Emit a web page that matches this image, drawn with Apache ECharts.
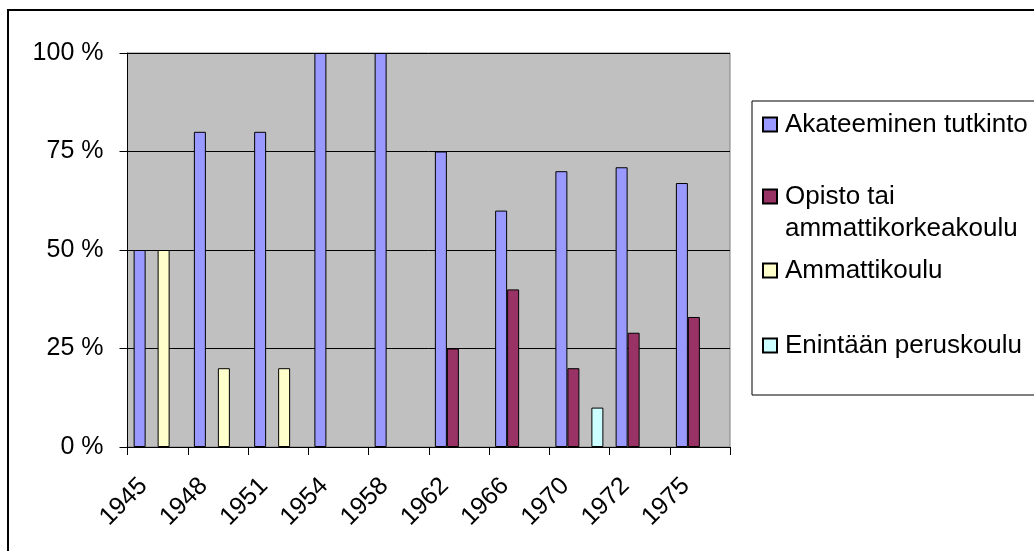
<!DOCTYPE html>
<html>
<head>
<meta charset="utf-8">
<script src="https://cdn.jsdelivr.net/npm/echarts@6/dist/echarts.min.js"></script>
<style>
html,body{margin:0;padding:0;background:#fff;}
#c{width:1034px;height:551px;}
</style>
</head>
<body>
<div id="c"></div>
<script>
// ---- data ----
const categories = ['1945', '1948', '1951', '1954', '1958', '1962', '1966', '1970', '1972', '1975'];
const seriesNames = ['Akateeminen tutkinto', 'Opisto tai ammattikorkeakoulu', 'Ammattikoulu', 'Enintään peruskoulu'];
const akateeminen = [50, 80, 80, 100, 100, 75, 60, 70, 71, 67];
const opisto = [null, null, null, null, null, 25, 40, 20, 29, 33];
const ammattikoulu = [50, 20, 20, null, null, null, null, null, null, null];
const peruskoulu = [null, null, null, null, null, null, null, 10, null, null];
const yTicks = [0, 25, 50, 75, 100];

// ---- styling ----
const colors = ['#9999FF', '#993366', '#FFFFCC', '#CCFFFF'];
const FONT = '"Liberation Sans", Arial, sans-serif';
const values = [akateeminen, opisto, ammattikoulu, peruskoulu];

const chart = echarts.init(document.getElementById('c'), null, {renderer: 'canvas'});

const legendTops = [108.5, 148.5, 254.5, 329.5];
const legends = seriesNames.map((n, i) => ({
  data: [n],
  left: 762,
  top: legendTops[i],
  padding: 0,
  orient: 'vertical',
  itemWidth: 14,
  itemHeight: 14,
  icon: 'rect',
  selectedMode: false,
  formatter: n === 'Opisto tai ammattikorkeakoulu' ? '\nOpisto tai\nammattikorkeakoulu' : '{name}',
  textStyle: {fontFamily: FONT, fontSize: 26, color: '#000', lineHeight: 32, padding: [0, 0, 0, 3]}
}));

chart.setOption({
  animation: false,
  backgroundColor: '#fff',
  textStyle: {fontFamily: FONT},
  grid: {
    left: 127.5, right: 304, top: 53, bottom: 104,
    show: true, backgroundColor: '#C0C0C0', borderColor: '#808080', borderWidth: 1
  },
  legend: legends,
  graphic: [
    {type: 'rect', shape: {x: 8, y: 10, width: 1100, height: 600}, style: {fill: 'none', stroke: '#000', lineWidth: 2}, z: 100},
    {type: 'rect', shape: {x: 752, y: 101, width: 400, height: 294}, style: {fill: 'none', stroke: '#000', lineWidth: 1}, z: 100}
  ],
  xAxis: {
    type: 'category',
    data: categories,
    boundaryGap: true,
    axisLine: {show: true, lineStyle: {color: '#000', width: 1}},
    axisTick: {show: true, length: 8, alignWithLabel: false, interval: 0, lineStyle: {color: '#000'}},
    axisLabel: {interval: 0, rotate: 45, fontSize: 25, color: '#000', fontFamily: FONT, margin: 21, padding: [0, 20, 0, 0]},
    splitLine: {show: false}
  },
  yAxis: {
    type: 'value',
    min: yTicks[0], max: yTicks[yTicks.length - 1], interval: 25,
    axisLine: {show: true, lineStyle: {color: '#000', width: 1}},
    axisTick: {show: true, length: 8, lineStyle: {color: '#000'}},
    axisLabel: {formatter: '{value} %', fontSize: 25, color: '#000', fontFamily: FONT, margin: 24},
    splitLine: {show: true, lineStyle: {color: '#000', width: 1}}
  },
  series: seriesNames.map((n, i) => ({
    name: n,
    type: 'bar',
    data: values[i],
    barWidth: 12,
    barGap: '0%',
    itemStyle: {color: colors[i], borderColor: '#000', borderWidth: 1}
  }))
});
</script>
</body>
</html>
